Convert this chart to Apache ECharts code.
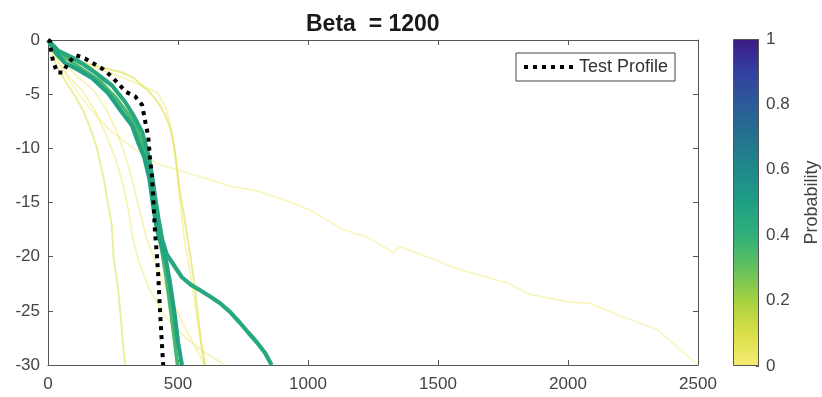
<!DOCTYPE html>
<html>
<head>
<meta charset="utf-8">
<script src="https://cdn.jsdelivr.net/npm/echarts@6/dist/echarts.min.js"></script>
<style>
  html, body { margin: 0; padding: 0; background: #fff; }
  #chart { width: 822px; height: 397px; }
</style>
</head>
<body>
<div id="chart"></div>
<script>
// ---- data: [x, depth] pairs ----
var testProfile = [[0,0],[8,-0.1],[12,-1],[19,-1.9],[35,-3],[58,-3],[77,-2.1],[108,-1.4],[142,-1.7],[177,-2.2],
  [212,-2.7],[246,-3.4],[273,-4.1],[300,-4.8],[335,-5.2],[362,-6],[369,-6.9],[377,-7.9],[385,-8.8],[392,-10.8],
  [400,-12.6],[405,-14.6],[411,-17.5],[418,-19.6],[424,-21.7],[430,-24.6],[437,-27.6],[443,-30]];

var profileA = [[0,0],[30,-1.2],[65,-2.1],[120,-2.8],[169,-3.5],[231,-4.9],[285,-6.7],[323,-7.9],[346,-9.4],
  [370,-10.8],[390,-12.8],[405,-15.4],[420,-17.6],[440,-19.2],[455,-20.5],[469,-22.4],[488,-25.5],[500,-27.9],[515,-30]];
var profileB = [[0,0],[40,-1],[92,-1.6],[140,-2.3],[181,-3],[246,-4.2],[296,-5.7],[327,-6.9],[362,-8.5],
  [385,-10.5],[400,-12.5],[412,-14.5],[425,-16.5],[440,-18.5],[457,-19.8],[490,-21],[515,-21.9],[550,-22.6],
  [585,-23.1],[625,-23.7],[662,-24.3],[700,-25.1],[738,-26.1],[770,-27],[803,-27.9],[835,-28.9],[860,-30]];
var profileC = [[0,0],[60,-1.5],[120,-2.5],[200,-3.8],[260,-5.3],[310,-6.9],[340,-8.1],[362,-9.6],[382,-11.6],
  [398,-13.6],[410,-15.6],[423,-17.6],[438,-19.5],[455,-22],[472,-25],[488,-28],[498,-30]];
var profileD = [[0,0],[60,-1.4],[150,-2.2],[220,-2.6],[285,-3],[330,-3.5],[362,-4.2],[390,-4.8],[412,-5.4],
  [432,-6.1],[450,-6.9],[465,-7.8],[477,-8.8],[487,-10],[495,-11.5],[502,-13],[510,-14.5],[522,-16],[535,-18],
  [548,-20],[563,-22.5],[577,-25.5],[590,-28],[604,-30]];
var profileE = [[0,0],[20,-1.5],[34,-2.5],[72,-4],[105,-5.2],[135,-6.5],[160,-8],[187,-9.9],[205,-11.8],
  [218,-13.2],[226,-14.5],[245,-17],[252,-20],[270,-23],[283,-26.5],[296,-30]];
var profileF = [[0,0],[40,-2],[90,-4],[150,-6],[200,-7.4],[238,-8.3],[300,-9.5],[360,-10.5],[418,-11.4],[500,-12],
  [585,-12.6],[700,-13.5],[800,-13.9],[892,-14.6],[1008,-15.7],[1135,-17.5],[1226,-18.2],[1327,-19.6],[1354,-19.1],
  [1457,-20],[1585,-21.2],[1765,-22.4],[1854,-23.5],[2008,-24.2],[2085,-24.3],[2173,-25.2],[2342,-26.7],[2419,-28.3],[2500,-30]];
var profileG = [[0,0],[40,-2],[80,-3.4],[130,-4.6],[180,-6.5],[225,-8.8],[260,-11],[290,-13.5],[310,-15.8],
  [327,-18.4],[350,-20.5],[390,-23],[450,-25.5],[530,-27.5],[600,-28.8],[681,-30]];
var profileH = [[0,0],[50,-1.8],[110,-3.3],[173,-4.6],[220,-6.2],[260,-8.2],[295,-10.5],[325,-13],[350,-15.5],
  [367,-17.2],[380,-18.4],[420,-21],[470,-23.8],[520,-26.2],[565,-28.3],[604,-30]];
var profileI = [[0,0],[70,-1.6],[170,-2.5],[260,-3.2],[330,-3.9],[380,-4.4],[423,-4.9],[452,-6.2],[472,-8],
  [488,-10.5],[497,-12.5],[508,-15],[525,-18.5],[550,-22],[575,-26],[600,-30]];

var profiles = [profileF, profileG, profileH, profileI, profileE, profileD, profileC, profileB, profileA];
var probabilities = [0.02, 0.03, 0.03, 0.03, 0.07, 0.08, 0.35, 0.45, 0.48];

var xTicks = [0, 500, 1000, 1500, 2000, 2500];
var yTicks = [-30, -25, -20, -15, -10, -5, 0];
var probTicks = [0, 0.2, 0.4, 0.6, 0.8, 1];

// colour scale as it appears in the colour bar
var cmapStops = [[0,'#f7eb74'],[0.1,'#d9df48'],[0.2,'#a6d13f'],[0.3,'#62c05e'],[0.4,'#2fb07a'],[0.5,'#1e9f84'],
  [0.6,'#1f8a8a'],[0.7,'#24728f'],[0.8,'#2b5b98'],[0.9,'#3340a0'],[1,'#3b1a85']];

function hex2rgb(h){ return [parseInt(h.substr(1,2),16),parseInt(h.substr(3,2),16),parseInt(h.substr(5,2),16)]; }
function cmap(p){
  for (var i = 1; i < cmapStops.length; i++) {
    if (p <= cmapStops[i][0]) {
      var a = cmapStops[i-1], b = cmapStops[i];
      var t = (p - a[0]) / (b[0] - a[0]);
      var ca = hex2rgb(a[1]), cb = hex2rgb(b[1]);
      return 'rgb(' + [0,1,2].map(function(k){ return Math.round(ca[k] + (cb[k]-ca[k])*t); }).join(',') + ')';
    }
  }
  return cmapStops[cmapStops.length-1][1];
}

var font = 'Liberation Sans, Arial, sans-serif';
var chart = echarts.init(document.getElementById('chart'));

var series = [];
profiles.forEach(function(d, i){
  var p = probabilities[i];
  series.push({
    type: 'line', xAxisIndex: 0, yAxisIndex: 0,
    data: d, symbol: 'none', silent: true, z: 2 + i,
    lineStyle: { color: cmap(p), width: Math.min(4.2, 1.5 + 6 * p), opacity: Math.min(1, 0.4 + 3 * p) }
  });
});
series.push({
  name: 'Test Profile', type: 'line', xAxisIndex: 0, yAxisIndex: 0,
  data: testProfile, symbol: 'none', silent: true, z: 20,
  itemStyle: { color: '#000' },
  lineStyle: { color: '#000', width: 4, type: [4, 5], cap: 'butt' }
});
// colour bar
series.push({
  type: 'bar', xAxisIndex: 2, yAxisIndex: 2, data: [1], barWidth: '100%', silent: true,
  itemStyle: {
    borderColor: '#555', borderWidth: 1,
    color: new echarts.graphic.LinearGradient(0, 0, 0, 1,
      cmapStops.slice().reverse().map(function(s){ return { offset: 1 - s[0], color: s[1] }; }))
  }
});

var boxLine = { show: true, onZero: false, lineStyle: { color: '#555', width: 1 } };
var inTick = { show: true, inside: true, length: 5, lineStyle: { color: '#555' } };
var plain = function(v){ return String(v); };

chart.setOption({
  animation: false,
  backgroundColor: '#fff',
  title: {
    text: 'Beta  = 1200', left: 301, top: 8,
    textStyle: { fontFamily: font, fontSize: 23, fontWeight: 'bold', color: '#1a1a1a' }
  },
  legend: {
    data: ['Test Profile'], left: 516, top: 53,
    borderColor: '#444', borderWidth: 1, borderRadius: 0, padding: [5, 7, 5, 6],
    itemWidth: 50, itemHeight: 12, itemGap: 4,
    itemStyle: { opacity: 0 },
    lineStyle: { width: 4, type: [4, 5], color: '#000', cap: 'butt' },
    textStyle: { fontFamily: font, fontSize: 18, color: '#333' }
  },
  grid: [
    { left: 48, top: 40, width: 650, height: 325 },
    { left: 733, top: 39, width: 30, height: 327 }
  ],
  xAxis: [
    { gridIndex: 0, type: 'value', min: xTicks[0], max: xTicks[xTicks.length-1], interval: 500, position: 'bottom',
      axisLine: boxLine, axisTick: inTick, splitLine: { show: false },
      axisLabel: { fontFamily: font, fontSize: 17, color: '#444', margin: 11, formatter: plain } },
    { gridIndex: 0, type: 'value', min: xTicks[0], max: xTicks[xTicks.length-1], interval: 500, position: 'top',
      axisLine: boxLine, axisTick: inTick, splitLine: { show: false }, axisLabel: { show: false } },
    { gridIndex: 1, type: 'category', data: ['c'], show: false }
  ],
  yAxis: [
    { gridIndex: 0, type: 'value', min: yTicks[0], max: yTicks[yTicks.length-1], interval: 5, position: 'left',
      axisLine: boxLine, axisTick: inTick, splitLine: { show: false },
      axisLabel: { fontFamily: font, fontSize: 17, color: '#444', margin: 8, formatter: plain } },
    { gridIndex: 0, type: 'value', min: yTicks[0], max: yTicks[yTicks.length-1], interval: 5, position: 'right',
      axisLine: boxLine, axisTick: inTick, splitLine: { show: false }, axisLabel: { show: false } },
    { gridIndex: 1, type: 'value', min: probTicks[0], max: probTicks[probTicks.length-1], interval: 0.2, position: 'right',
      axisLine: { show: false }, axisTick: { show: true, inside: true, length: 3, lineStyle: { color: '#555' } },
      splitLine: { show: false },
      axisLabel: { fontFamily: font, fontSize: 17, color: '#444', margin: 7, formatter: plain },
      name: 'Probability', nameLocation: 'middle', nameGap: 44, nameRotate: 90,
      nameTextStyle: { fontFamily: font, fontSize: 18, color: '#444' } }
  ],
  series: series
});
</script>
</body>
</html>
